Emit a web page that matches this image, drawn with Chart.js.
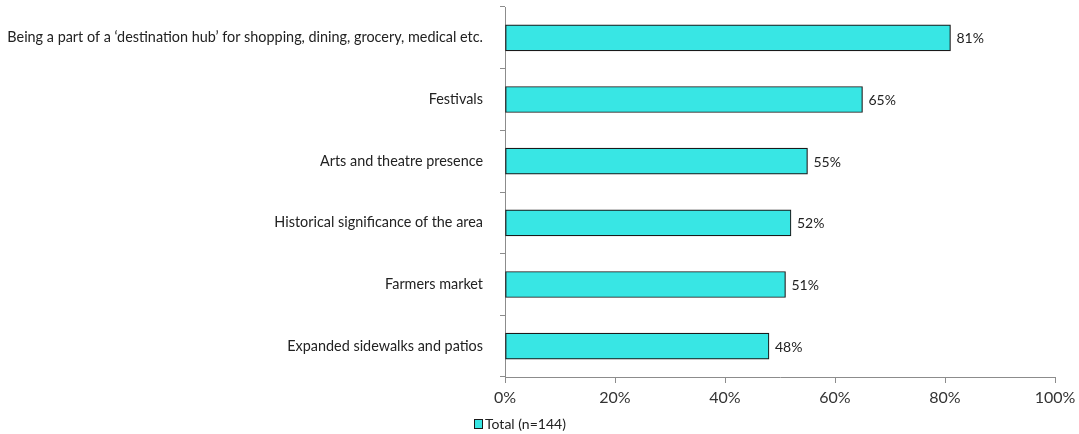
<!DOCTYPE html>
<html>
<head>
<meta charset="utf-8">
<script src="https://cdn.jsdelivr.net/npm/chart.js@4.4.1/dist/chart.umd.min.js"></script>
<style>
  html, body { margin: 0; padding: 0; background: #ffffff; }
  #wrap { width: 1079px; height: 434px; position: relative; }
</style>
</head>
<body>
<div id="wrap"><canvas id="c" width="1079" height="434"></canvas></div>
<script>
// Survey attributes and share of respondents (%)
const categories = [
  "Being a part of a \u2018destination hub\u2019 for shopping, dining, grocery, medical etc.",
  "Festivals",
  "Arts and theatre presence",
  "Historical significance of the area",
  "Farmers market",
  "Expanded sidewalks and patios"
];
const totalValues = [81, 65, 55, 52, 51, 48];
const seriesLabel = "Total (n=144)";
const xTicks = [0, 20, 40, 60, 80, 100];

const FONT = "Lato, 'Open Sans', sans-serif";
const BAR_FILL = "#38e6e4";
const BAR_EDGE = "#1a1a1a";

// Writes the percentage at the end of each bar
const valueLabels = {
  id: "valueLabels",
  afterDatasetsDraw(chart) {
    const ctx = chart.ctx;
    const meta = chart.getDatasetMeta(0);
    ctx.save();
    ctx.font = "14px " + FONT;
    ctx.fillStyle = "#222";
    ctx.textAlign = "left";
    ctx.textBaseline = "middle";
    meta.data.forEach((bar, i) => {
      ctx.fillText(totalValues[i] + "%", bar.x + 6, bar.y + 1);
    });
    ctx.restore();
  }
};

// Small legend entry under the axis
const bottomLegend = {
  id: "bottomLegend",
  afterDraw(chart) {
    const ctx = chart.ctx;
    const x = chart.chartArea.left - 31;
    const y = 424;
    ctx.save();
    ctx.fillStyle = BAR_FILL;
    ctx.strokeStyle = BAR_EDGE;
    ctx.lineWidth = 1;
    ctx.fillRect(x + 0.5, y - 4.5, 8, 9);
    ctx.strokeRect(x + 0.5, y - 4.5, 8, 9);
    ctx.font = "14px " + FONT;
    ctx.fillStyle = "#222";
    ctx.textAlign = "left";
    ctx.textBaseline = "middle";
    ctx.fillText(chart.data.datasets[0].label, x + 11, y + 0.5);
    ctx.restore();
  }
};

new Chart(document.getElementById("c"), {
  type: "bar",
  data: {
    labels: categories,
    datasets: [{
      label: seriesLabel,
      data: totalValues,
      backgroundColor: BAR_FILL,
      borderColor: BAR_EDGE,
      borderWidth: 1.2,
      borderSkipped: false,
      barThickness: 26
    }]
  },
  options: {
    indexAxis: "y",
    responsive: false,
    animation: false,
    layout: { padding: { top: 7, right: 24, left: 0, bottom: 0 } },
    plugins: {
      legend: { display: false },
      tooltip: { enabled: false }
    },
    scales: {
      x: {
        min: 0,
        max: 100,
        afterBuildTicks(scale) {
          scale.ticks = xTicks.map(v => ({ value: v }));
        },
        afterFit(scale) {
          scale.height = 57;
          scale.paddingLeft = 0;
          scale.paddingRight = 0;
        },
        border: { color: "#8c8c8c", width: 1 },
        grid: {
          drawOnChartArea: false,
          drawTicks: true,
          tickLength: 6,
          color: "#8c8c8c"
        },
        ticks: {
          padding: 5,
          color: "#333",
          font: { family: FONT, size: 16 },
          callback: v => v + "%"
        }
      },
      y: {
        afterFit(scale) {
          scale.width = 505;
          scale.paddingTop = 0;
          scale.paddingBottom = 0;
        },
        border: { color: "#8c8c8c", width: 1 },
        grid: {
          offset: true,
          drawOnChartArea: false,
          drawTicks: true,
          tickLength: 5,
          color: "#8c8c8c"
        },
        ticks: {
          padding: 17,
          color: "#222",
          font: { family: FONT, size: 14.4 }
        }
      }
    }
  },
  plugins: [valueLabels, bottomLegend]
});
</script>
</body>
</html>
